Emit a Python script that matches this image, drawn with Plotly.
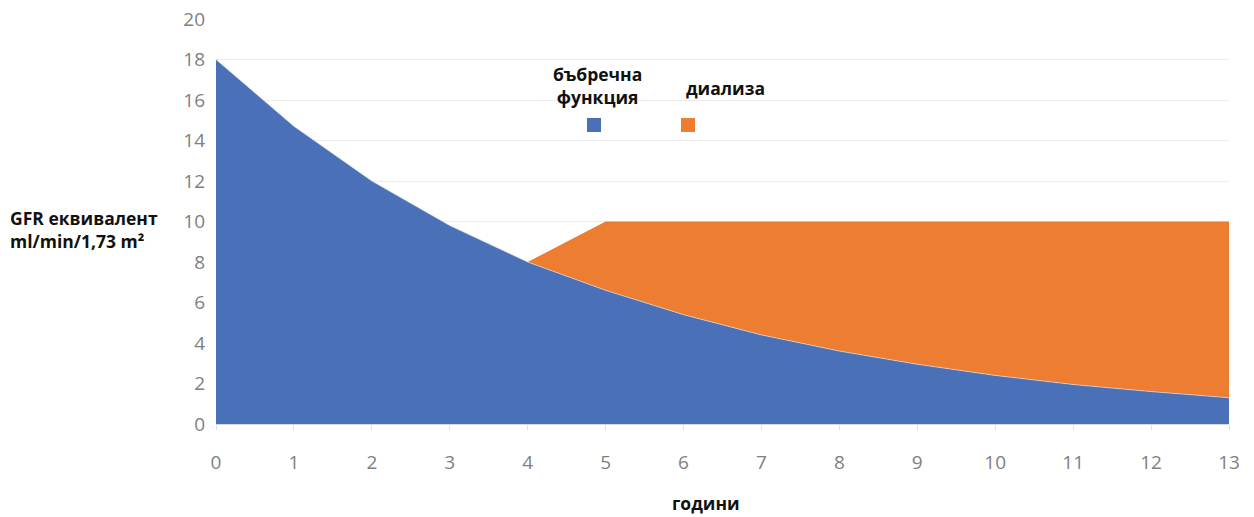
import plotly.graph_objects as go

# years on the x axis
years = list(range(14))
# remaining kidney function (GFR equivalent, ml/min/1.73 m2)
kidney_function = [18, 14.7, 12, 9.8, 8, 6.6, 5.4, 4.4, 3.6, 2.95, 2.4, 1.95, 1.6, 1.3]
# dialysis contribution stacked on top of kidney function
dialysis = [0, 0, 0, 0, 0, 3.4, 4.6, 5.6, 6.4, 7.05, 7.6, 8.05, 8.4, 8.7]

BLUE = "#4A71B8"
ORANGE = "#ED7D31"
TICK_FONT = dict(family="Open Sans, Liberation Sans, sans-serif", size=19, color="#7F7F7F")
BOLD_FONT = dict(family="Open Sans, Liberation Sans, sans-serif", size=17.5, color="#111111")

L, R, T, B = 216, 25, 19, 93
PW = 1254 - L - R
PH = 517 - T - B

fig = go.Figure()
fig.add_trace(go.Scatter(
    x=years, y=kidney_function, stackgroup="gfr", mode="lines",
    line=dict(width=0.6, color="#E6E6E6"), fillcolor=BLUE, name="бъбречна функция",
    hoverinfo="x+y",
))
fig.add_trace(go.Scatter(
    x=years, y=dialysis, stackgroup="gfr", mode="lines",
    line=dict(width=0, color=ORANGE), fillcolor=ORANGE, name="диализа",
    hoverinfo="x+y",
))

fig.update_layout(
    width=1254, height=517,
    margin=dict(l=L, r=R, t=T, b=B, autoexpand=False),
    paper_bgcolor="white", plot_bgcolor="white",
    showlegend=False,
    xaxis=dict(
        range=[0, 13], tickmode="linear", dtick=1, showgrid=False,
        ticks="outside", ticklen=5, tickcolor="#E0E0E0",
        showline=True, linecolor="#D9D9D9", linewidth=1,
        tickfont=TICK_FONT, zeroline=False, automargin=False,
        ticklabelstandoff=16,
    ),
    yaxis=dict(
        range=[0, 20], tickmode="linear", dtick=2,
        showgrid=True, gridcolor="#EDEDED", gridwidth=1,
        zeroline=False, showline=False, tickfont=TICK_FONT, ticklabelstandoff=10,
        automargin=False,
    ),
)

# axis titles
fig.add_annotation(
    xref="paper", yref="paper", x=(8 - L) / PW, y=(424 - 229) / PH,
    xanchor="left", yanchor="middle", align="left", showarrow=False,
    text="<b>GFR еквивалент</b><br><b>ml/min/1,73 m²</b>", font=BOLD_FONT,
)
fig.add_annotation(
    xref="paper", yref="paper", x=(706 - L) / PW, y=-(503 - 424) / PH,
    xanchor="center", yanchor="middle", showarrow=False,
    text="<b>години</b>", font=BOLD_FONT,
)

# legend labels and swatches
fig.add_annotation(
    xref="paper", yref="paper", x=(597 - L) / PW, y=(424 - 86) / PH,
    xanchor="center", yanchor="middle", align="center", showarrow=False,
    text="<b>бъбречна</b><br><b>функция</b>", font=BOLD_FONT,
)
fig.add_annotation(
    xref="paper", yref="paper", x=(725 - L) / PW, y=(424 - 88) / PH,
    xanchor="center", yanchor="middle", showarrow=False,
    text="<b>диализа</b>", font=BOLD_FONT,
)
for cx, color in [(594, BLUE), (688, ORANGE)]:
    fig.add_shape(
        type="rect", xref="paper", yref="paper",
        x0=(cx - 7 - L) / PW, x1=(cx + 7 - L) / PW,
        y0=(424 - 132) / PH, y1=(424 - 118) / PH,
        fillcolor=color, line=dict(width=0),
    )

fig.write_html("out.html")
